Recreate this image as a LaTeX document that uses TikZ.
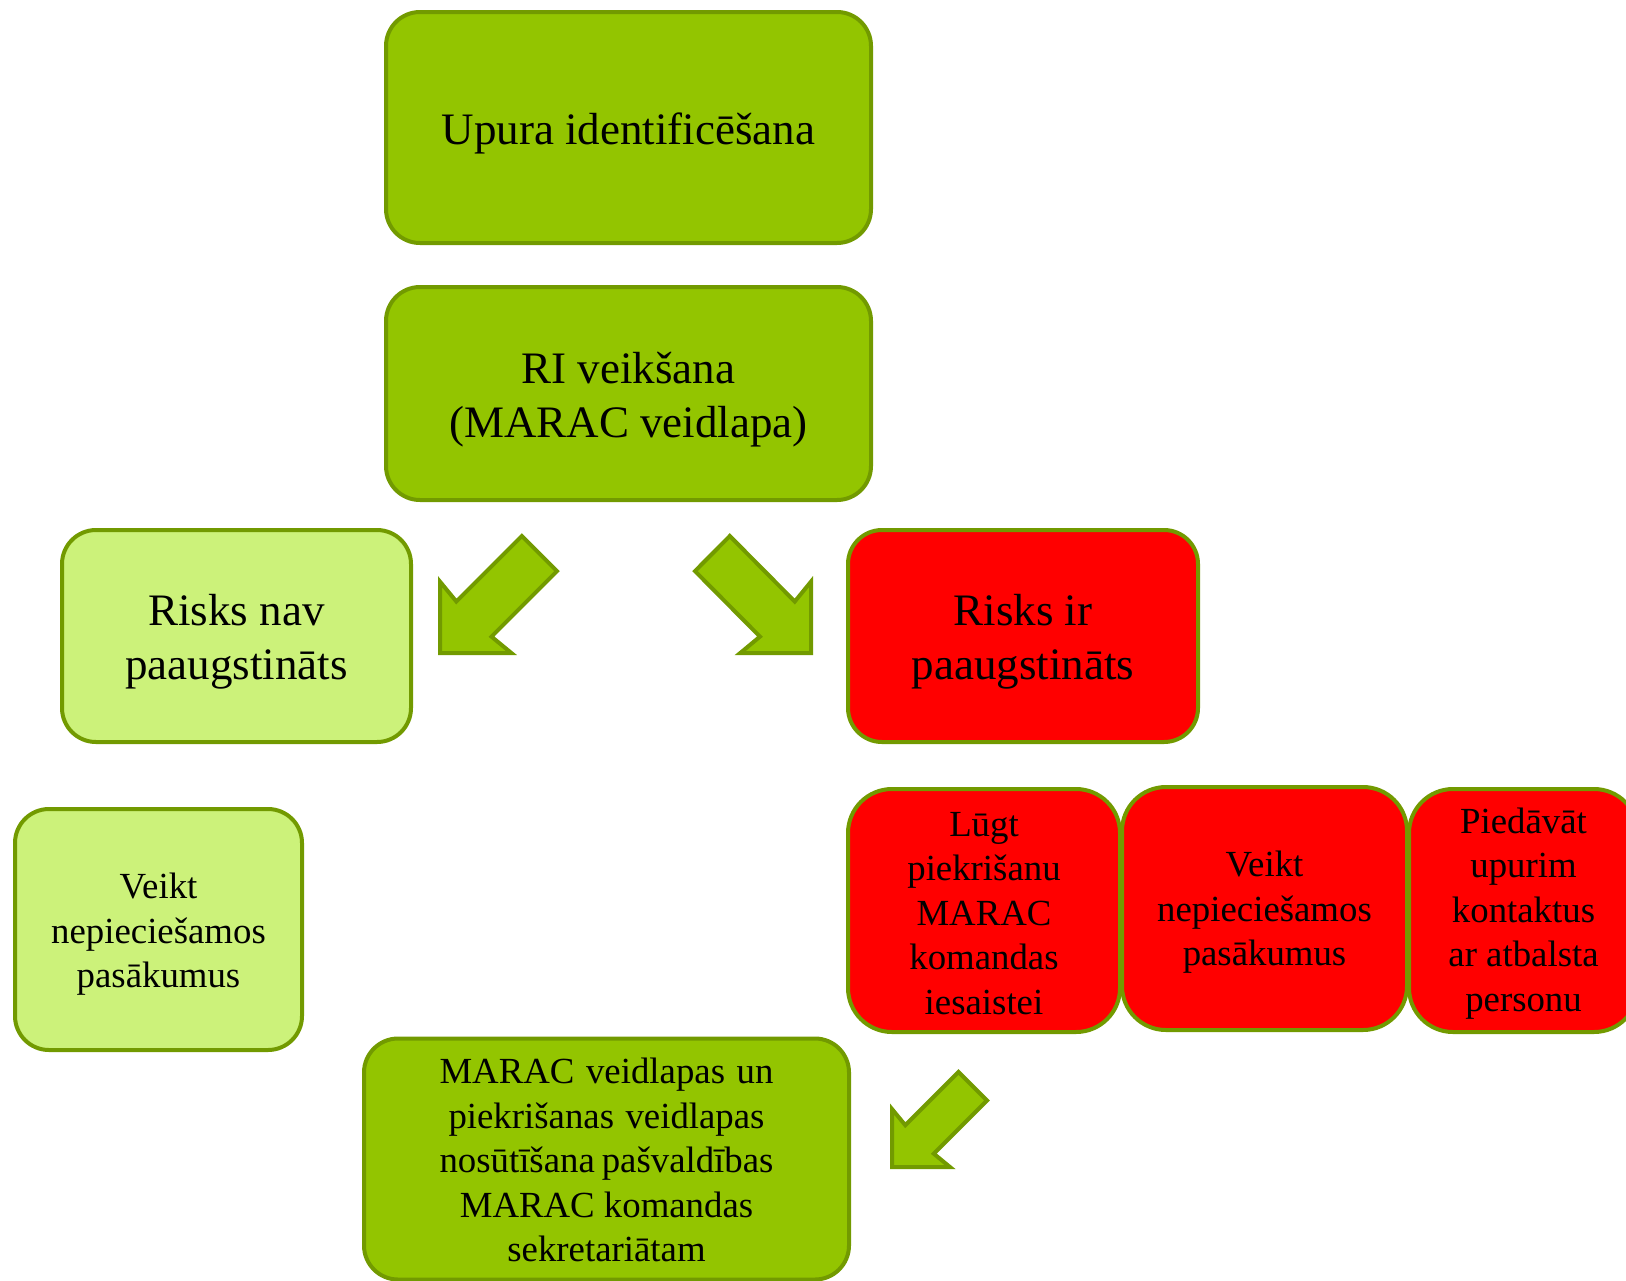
\documentclass[tikz,border=0pt]{standalone}
\usepackage{fontspec}
\setmainfont{Liberation Serif}
\definecolor{boxgreen}{HTML}{93C500}
\definecolor{lightgreen}{HTML}{CCF27A}
\definecolor{edgegreen}{HTML}{729A00}
\definecolor{boxred}{HTML}{FF0000}
\tikzset{
  box/.style={draw=edgegreen, line width=2pt, rounded corners=17pt, inner sep=0pt},
  lbl/.style={align=center, inner sep=0pt, text=black},
  bigtext/.style={lbl, font=\fontsize{22.5}{27}\selectfont},
  smalltext/.style={lbl, font=\fontsize{18.4}{22.3}\selectfont},
  arrowstyle/.style={draw=edgegreen, fill=boxgreen, line width=2pt, line join=miter},
  bigarrow/.pic={\path[arrowstyle] (0.70,0) -- (1,0.30) -- (0.44,0.86) -- (0.61,1) -- (0,1) -- (0,0.39) -- (0.14,0.56) -- cycle;}
}
\begin{document}
\begin{tikzpicture}[x=0.5pt,y=-0.5pt]
\useasboundingbox (0,0) rectangle (1626,1280);
% boxes
\node[box, fill=boxgreen, minimum width=242.5pt, minimum height=115.5pt] (ident) at (628.5,127.5) {};
\node[box, fill=boxgreen, minimum width=242.5pt, minimum height=106.5pt] (ri) at (628.5,393.5) {};
\node[box, fill=lightgreen, minimum width=174.5pt, minimum height=106pt] (nav) at (236.5,636) {};
\node[box, fill=boxred, minimum width=175pt, minimum height=106pt] (ir) at (1023,636) {};
\node[box, fill=lightgreen, minimum width=143.5pt, minimum height=120.5pt] (veiktL) at (158.5,929.5) {};
\node[box, fill=boxred, rounded corners=22pt, minimum width=136pt, minimum height=121.5pt] (lugt) at (984,910.5) {};
\node[box, fill=boxred, rounded corners=22pt, minimum width=142.5pt, minimum height=121.5pt] (veiktR) at (1264.5,908.5) {};
\node[box, fill=boxred, rounded corners=22pt, minimum width=114.5pt, minimum height=121.5pt] (pied) at (1523.5,910.5) {};
\node[box, fill=boxgreen, minimum width=242.5pt, minimum height=120.5pt] (marac) at (606.5,1159) {};
% texts
\node[bigtext] (identT) at ([yshift=-3pt]ident.center) {Upura identificēšana};
\node[bigtext] (riT) at ([yshift=-3pt]ri.center) {RI veikšana\\(MARAC veidlapa)};
\node[bigtext] (navT) at ([yshift=-3pt]nav.center) {Risks nav\\paaugstināts};
\node[bigtext] (irT) at ([yshift=-3pt]ir.center) {Risks ir\\paaugstināts};
\node[smalltext] (veiktLT) at ([yshift=-2.5pt]veiktL.center) {Veikt\\nepieciešamos\\pasākumus};
\node[smalltext] (lugtT) at ([yshift=-1.5pt]lugt.center) {Lūgt\\piekrišanu\\MARAC\\komandas\\iesaistei};
\node[smalltext] (veiktRT) at ([yshift=-2pt]veiktR.center) {Veikt\\nepieciešamos\\pasākumus};
\node[smalltext] (piedT) at ([yshift=-1.5pt]pied.center) {Piedāvāt\\upurim\\kontaktus\\ar atbalsta\\personu};
\node[smalltext] (maracT) at ([yshift=-0.5pt]marac.center) {\makebox[167pt][s]{MARAC veidlapas un}\\\makebox[158pt][s]{piekrišanas veidlapas}\\\makebox[167pt][s]{nosūtīšana pašvaldības}\\MARAC komandas\\sekretariātam};
% arrows
\pic[scale=117] at (440,536) {bigarrow};
\pic[xscale=-116, yscale=117] at (811,536) {bigarrow};
\pic[scale=95] at (892,1072) {bigarrow};
\end{tikzpicture}
\end{document}
